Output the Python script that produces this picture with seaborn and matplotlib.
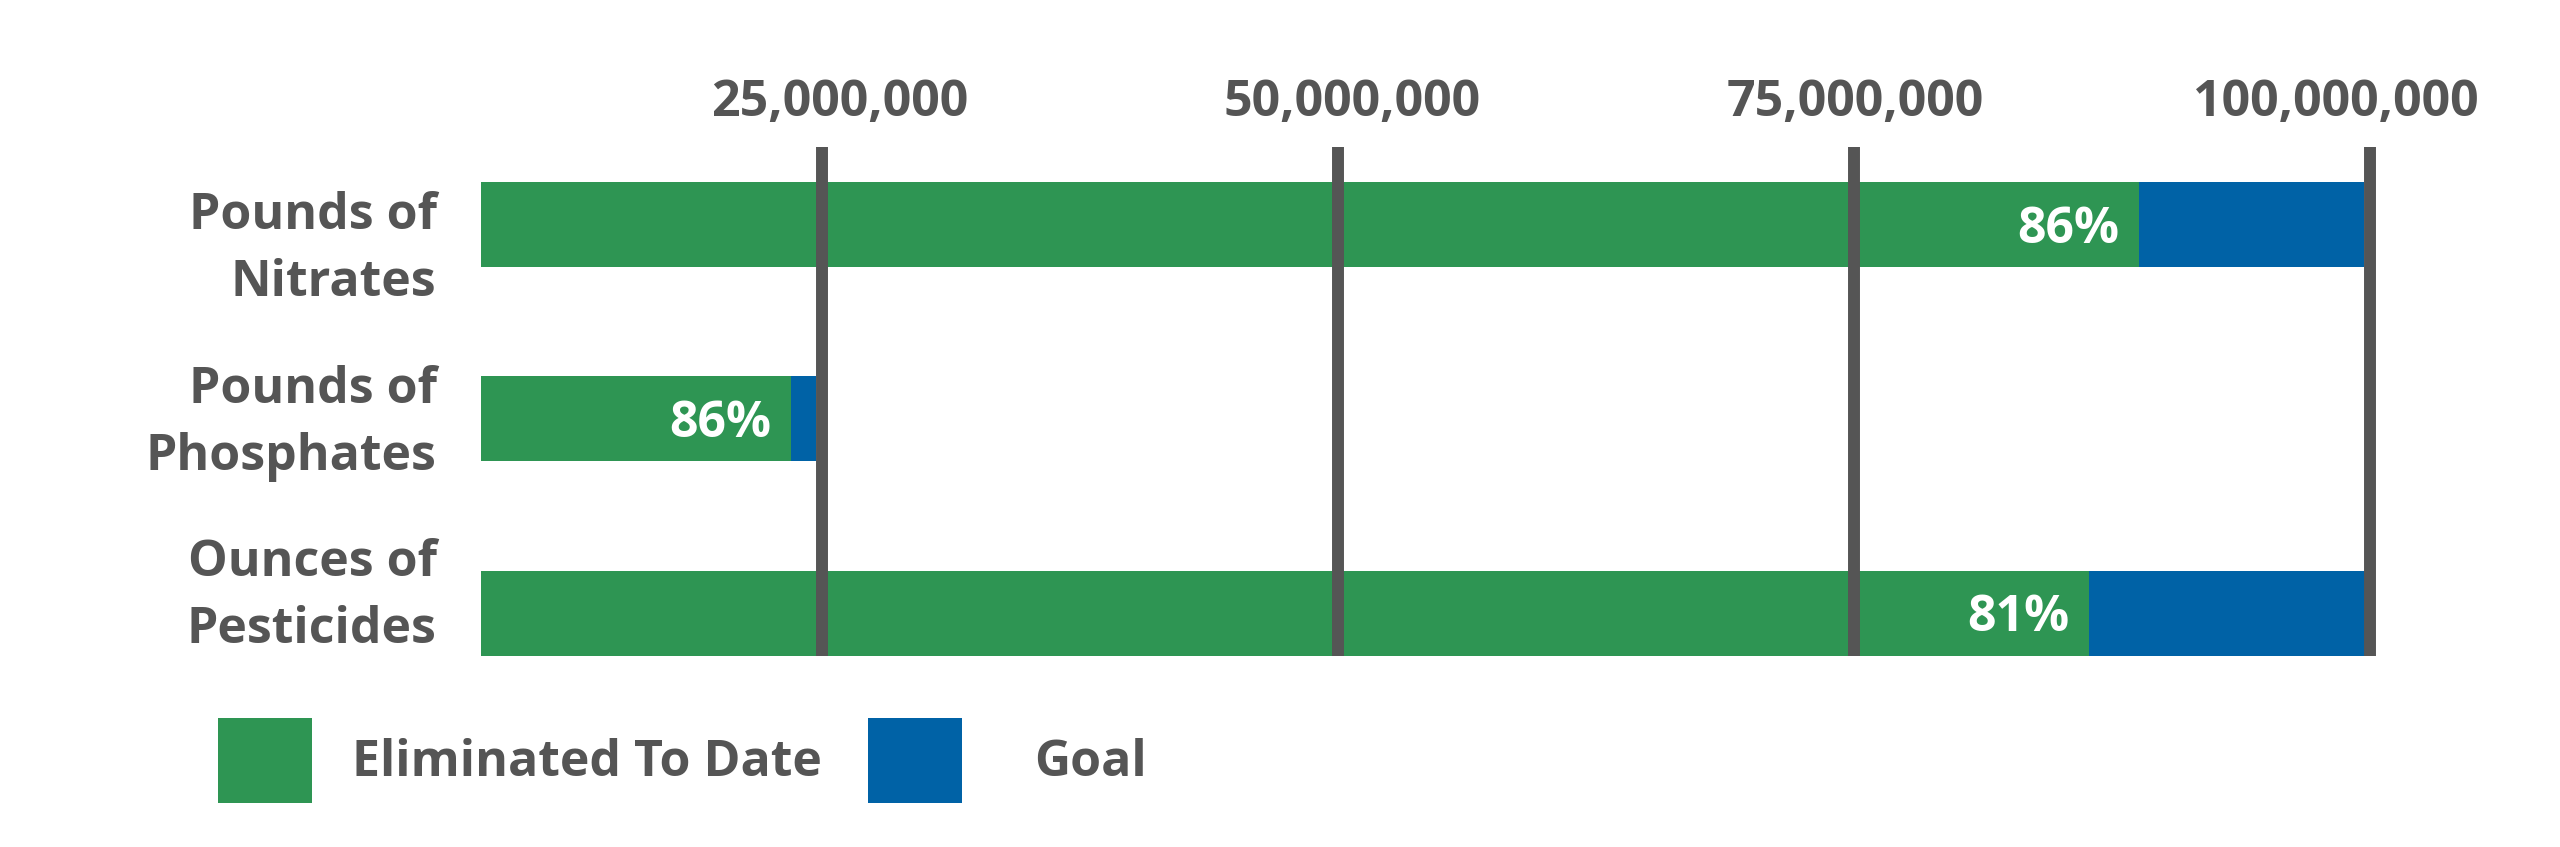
import matplotlib
matplotlib.use('Agg')
import matplotlib.pyplot as plt
import matplotlib.ticker as mticker
import matplotlib.transforms as mtransforms
from matplotlib.patches import Patch
import seaborn as sns
import pandas as pd

# valeurs (unités brutes)
categories = ['Pounds of\nNitrates', 'Pounds of\nPhosphates', 'Ounces of\nPesticides']
eliminated = [88_800_000, 23_500_000, 86_400_000]
goal = [99_700_000, 24_700_000, 100_000_000]
pct_labels = ['86%', '86%', '81%']
tick_values = [25_000_000, 50_000_000, 75_000_000, 100_000_000]
legend_labels = ['Eliminated To Date', 'Goal']

GREEN = '#2E9553'
BLUE = '#0062A6'
GREY = '#555555'

sns.set_theme(style='white')
plt.rcParams['font.family'] = ['Open Sans', 'DejaVu Sans']
plt.rcParams['font.weight'] = 'bold'

df = pd.DataFrame({'cat': categories, 'eliminated': eliminated, 'goal': goal})

fig = plt.figure(figsize=(25.6, 8.47), dpi=100)
ax = fig.add_axes([0.1879, 0.2258, 0.7459, 0.6006])

sns.barplot(data=df, y='cat', x='goal', color=BLUE, orient='h', width=0.438,
            saturation=1, linewidth=0, ax=ax)
sns.barplot(data=df, y='cat', x='eliminated', color=GREEN, orient='h', width=0.438,
            saturation=1, linewidth=0, ax=ax)

for i, (v, lab) in enumerate(zip(eliminated, pct_labels)):
    ax.annotate(lab, xy=(v, i), xytext=(-14, -3.5), textcoords='offset points',
                ha='right', va='center', color='white', fontsize=36, fontweight='bold')

ax.set_xlim(8_480_000, 101_000_000)
ax.set_ylim(2.22, -0.40)

ax.xaxis.tick_top()
ax.set_xticks(tick_values)
ax.xaxis.set_major_formatter(mticker.FuncFormatter(lambda x, p: f'{x:,.0f}'))
ax.tick_params(axis='x', length=0, pad=14, labelsize=36, labelcolor=GREY)
ax.tick_params(axis='y', length=0, pad=32, labelsize=36, labelcolor=GREY)

# petits décalages des étiquettes comme dans l'original (en pixels)
x_shift = [18, 14, 1, -34]
for t, dx in zip(ax.get_xticklabels(), x_shift):
    t.set_fontweight('bold')
    t.set_transform(t.get_transform() + mtransforms.ScaledTranslation(dx / 100, 0, fig.dpi_scale_trans))
y_shift = [-10, 9.5, 31]
for t, dy in zip(ax.get_yticklabels(), y_shift):
    t.set_fontweight('bold')
    t.set_linespacing(1.45)
    t.set_transform(t.get_transform() + mtransforms.ScaledTranslation(0, dy / 100, fig.dpi_scale_trans))

ax.set_xlabel('')
ax.set_ylabel('')
ax.grid(axis='x', color=GREY, linewidth=8.6)
ax.grid(axis='y', visible=False)
ax.set_axisbelow(False)
sns.despine(ax=ax, left=True, bottom=True, top=True, right=True)

leg_kw = dict(loc='upper left', frameon=False, borderpad=0, borderaxespad=0,
              handlelength=1.88, handleheight=2.24,
              prop={'size': 36, 'weight': 'bold'}, labelcolor=GREY)
leg1 = fig.legend([Patch(facecolor=GREEN, edgecolor='none')], [legend_labels[0]],
                  bbox_to_anchor=(218 / 2560, 1 - 718 / 847), handletextpad=0.8, **leg_kw)
leg2 = fig.legend([Patch(facecolor=BLUE, edgecolor='none')], [legend_labels[1]],
                  bbox_to_anchor=(868 / 2560, 1 - 718 / 847), handletextpad=1.44, **leg_kw)

fig.savefig('out.png', dpi=100)
